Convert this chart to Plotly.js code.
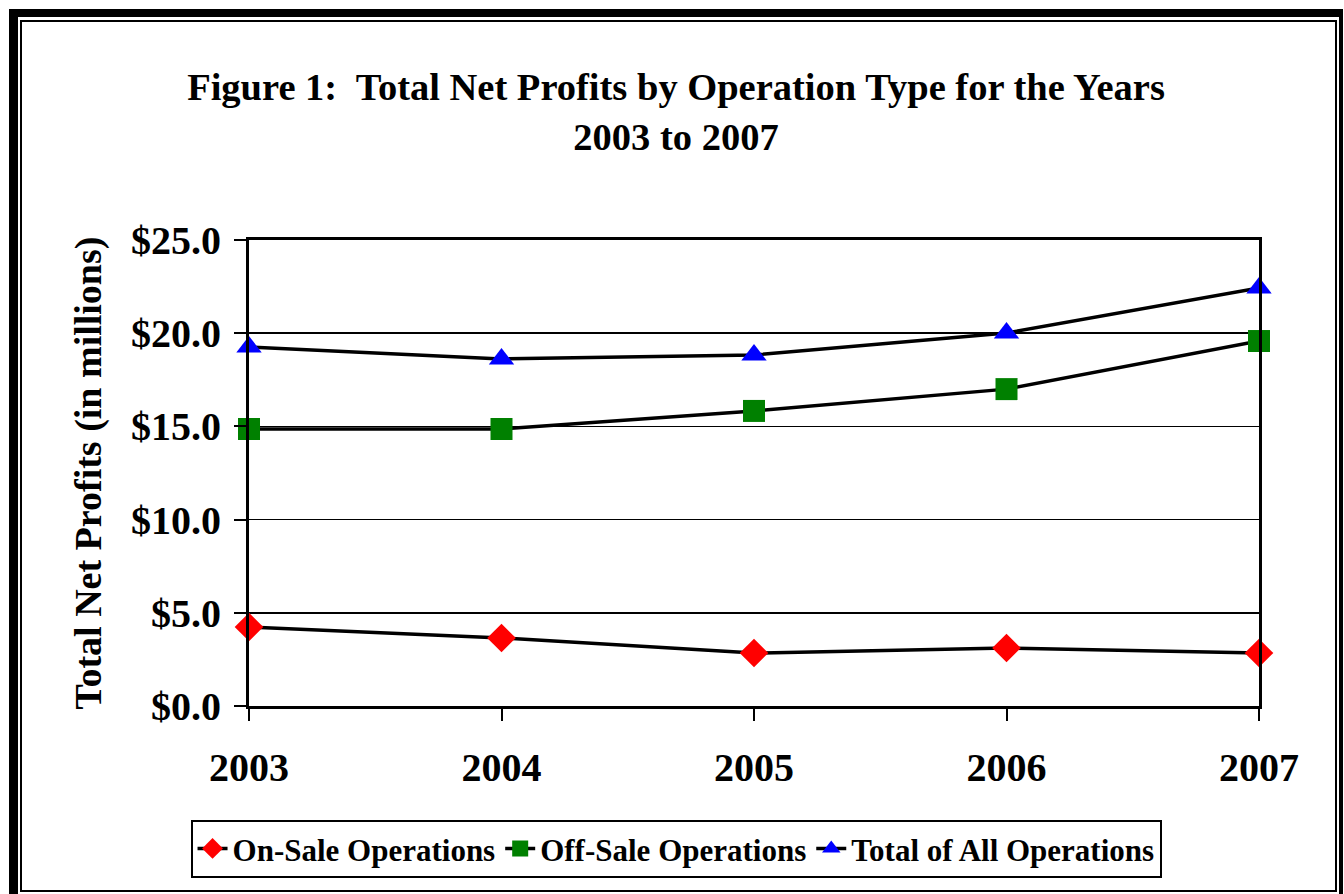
<!DOCTYPE html>
<html>
<head>
<meta charset="utf-8">
<script src="https://cdn.plot.ly/plotly-3.0.1.min.js"></script>
<style>
  html, body { margin: 0; padding: 0; background: #fff; }
  #wrap { position: relative; width: 1344px; height: 894px; }
  #chart { position: absolute; left: 0; top: 0; width: 1344px; height: 894px; }
  #outer { position: absolute; left: 9px; top: 9px; width: 1333px; height: 885px; border-left: 9px solid #000; border-top: 8px solid #000; box-sizing: border-box; pointer-events: none; }
  #inner { position: absolute; left: 20px; top: 20px; width: 1317px; height: 872px; border: 2px solid #000; box-sizing: border-box; pointer-events: none; }
  #rthick { position: absolute; left: 1339px; top: 9px; width: 4px; height: 885px; background: #000; }
</style>
</head>
<body>
<div id="wrap">
  <div id="chart"></div>
  <div id="outer"></div>
  <div id="inner"></div>
  <div id="rthick"></div>
</div>
<script>
const years = [2003, 2004, 2005, 2006, 2007];
const onSale = [4.24, 3.65, 2.84, 3.11, 2.84];
const offSale = [14.86, 14.86, 15.83, 17.0, 19.58];
const totalAll = [19.26, 18.62, 18.83, 20.01, 22.42];
const seriesNames = ["On-Sale Operations", "Off-Sale Operations", "Total of All Operations"];
const yTickVals = [0, 5, 10, 15, 20, 25];
const yTickText = ["$0.0", "$5.0", "$10.0", "$15.0", "$20.0", "$25.0"];

const FONT = "Liberation Serif, Times New Roman, serif";

function tr(y, name, symbol, color) {
  return {
    x: years, y: y, name: name, type: "scatter", mode: "lines+markers",
    line: {color: "#000", width: 3.5},
    marker: {symbol: symbol, size: 22, color: color, line: {width: 0}},
    cliponaxis: false
  };
}

const data = [
  tr(onSale, seriesNames[0], "diamond", "#ff0000"),
  tr(offSale, seriesNames[1], "square", "#008000"),
  tr(totalAll, seriesNames[2], "triangle-up", "#0000ff")
];

const layout = {
  width: 1344, height: 894,
  margin: {l: 249, r: 85, t: 240, b: 188, autoexpand: false},
  paper_bgcolor: "#fff", plot_bgcolor: "#fff",
  font: {family: FONT, color: "#000", size: 30, weight: "bold"},
  title: {
    text: "<b>Figure 1:  Total Net Profits by Operation Type for the Years<br>2003 to 2007</b>",
    font: {family: FONT, size: 38.5, color: "#000"},
    x: 0.503, xanchor: "center", y: 0.888, yanchor: "top"
  },
  xaxis: {
    type: "linear", range: [2003, 2007],
    tickvals: years, ticktext: years.map(String),
    ticks: "outside", ticklen: 12, tickwidth: 2, tickcolor: "#000",
    showline: true, linecolor: "#000", linewidth: 3, mirror: true,
    showgrid: false, zeroline: false,
    tickfont: {family: FONT, size: 40, color: "#000", weight: "bold"},
    ticklabelstandoff: 12
  },
  yaxis: {
    range: [0, 25],
    tickvals: yTickVals, ticktext: yTickText,
    ticks: "outside", ticklen: 12, tickwidth: 2, tickcolor: "#000",
    showline: true, linecolor: "#000", linewidth: 3, mirror: true,
    showgrid: true, gridcolor: "#000", gridwidth: 1.5,
    zeroline: false,
    tickfont: {family: FONT, size: 40, color: "#000", weight: "bold"},
    ticklabelstandoff: 5,
    title: {text: "<b>Total Net Profits (in millions)</b>", font: {family: FONT, size: 38, color: "#000"}, standoff: 18}
  },
  showlegend: true,
  legend: {
    orientation: "h", xref: "container", yref: "container",
    x: 0.503, xanchor: "center", y: 0.083, yanchor: "top",
    bordercolor: "#000", borderwidth: 2, bgcolor: "#fff",
    font: {family: FONT, size: 31, color: "#000", weight: "bold"},
    tracegroupgap: 0
  }
};

Plotly.newPlot("chart", data, layout, {displayModeBar: false, staticPlot: true});
</script>
</body>
</html>
